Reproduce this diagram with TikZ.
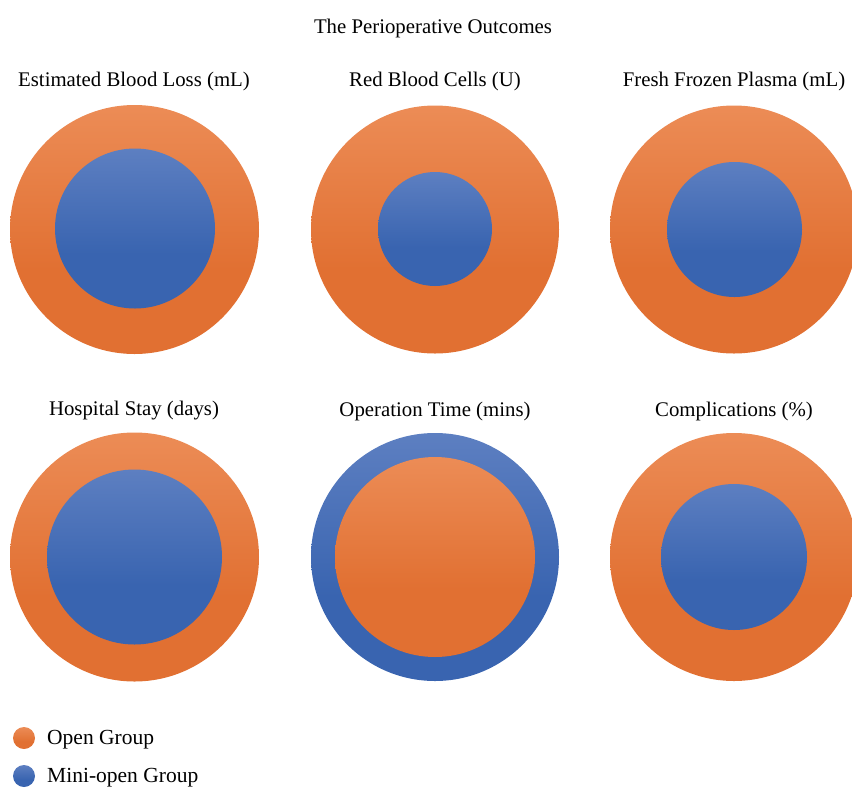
\documentclass[tikz,border=0pt]{standalone}
\usepackage{fontspec}
\setmainfont{Liberation Serif}
\definecolor{otop}{RGB}{236,140,86}
\definecolor{obot}{RGB}{225,112,50}
\definecolor{btop}{RGB}{93,127,193}
\definecolor{bbot}{RGB}{57,100,176}
\pgfdeclareverticalshading{oshade}{100bp}{color(0bp)=(obot); color(25bp)=(obot); color(42bp)=(obot); color(75bp)=(otop); color(100bp)=(otop)}
\pgfdeclareverticalshading{bshade}{100bp}{color(0bp)=(bbot); color(25bp)=(bbot); color(42bp)=(bbot); color(75bp)=(btop); color(100bp)=(btop)}
\tikzset{
  disc/.style={circle, inner sep=0pt, outer sep=0pt, draw=none, minimum size=#1},
  opengrp/.style={shading=oshade},
  minigrp/.style={shading=bshade},
  lbl/.style={font=\fontsize{20.8}{24}\selectfont, inner sep=0pt},
  leg/.style={font=\fontsize{21.5}{25}\selectfont, inner sep=0pt},
}
\begin{document}
\begin{tikzpicture}[x=1pt,y=-1pt]
\useasboundingbox (0,0) rectangle (852,788);
\clip (0,0) rectangle (852,788);
\node[lbl] (title) at (433,28) {The Perioperative Outcomes};
% row 1
\node[lbl] (t1) at (134,81) {Estimated Blood Loss (mL)};
\node[lbl] (t2) at (435,81) {Red Blood Cells (U)};
\node[lbl] (t3) at (734,81) {Fresh Frozen Plasma (mL)};
\node[disc=249pt, opengrp] (o1) at (134.5,229.5) {};
\node[disc=160pt, minigrp] (m1) at (135,228.5) {};
\node[disc=248pt, opengrp] (o2) at (435,229.5) {};
\node[disc=114pt, minigrp] (m2) at (435,229) {};
\node[disc=248pt, opengrp] (o3) at (734,229.5) {};
\node[disc=135pt, minigrp] (m3) at (734.5,229.5) {};
% row 2
\node[lbl] (t4) at (134,411) {Hospital Stay (days)};
\node[lbl] (t5) at (435,411) {Operation Time (mins)};
\node[lbl] (t6) at (734,411) {Complications (\%)};
\node[disc=249pt, opengrp] (o4) at (134.5,557) {};
\node[disc=175pt, minigrp] (m4) at (134.5,557) {};
\node[disc=248pt, minigrp] (m5) at (435,557) {};
\node[disc=200pt, opengrp] (o5) at (435,557) {};
\node[disc=248pt, opengrp] (o6) at (734,557) {};
\node[disc=146pt, minigrp] (m6) at (734,557) {};
% legend
\node[disc=22pt, opengrp] (lo) at (24,738) {};
\node[disc=22pt, minigrp] (lm) at (24,776) {};
\node[leg, anchor=west] (lot) at (47,740) {Open Group};
\node[leg, anchor=west] (lmt) at (47,778) {Mini-open Group};
\end{tikzpicture}
\end{document}
